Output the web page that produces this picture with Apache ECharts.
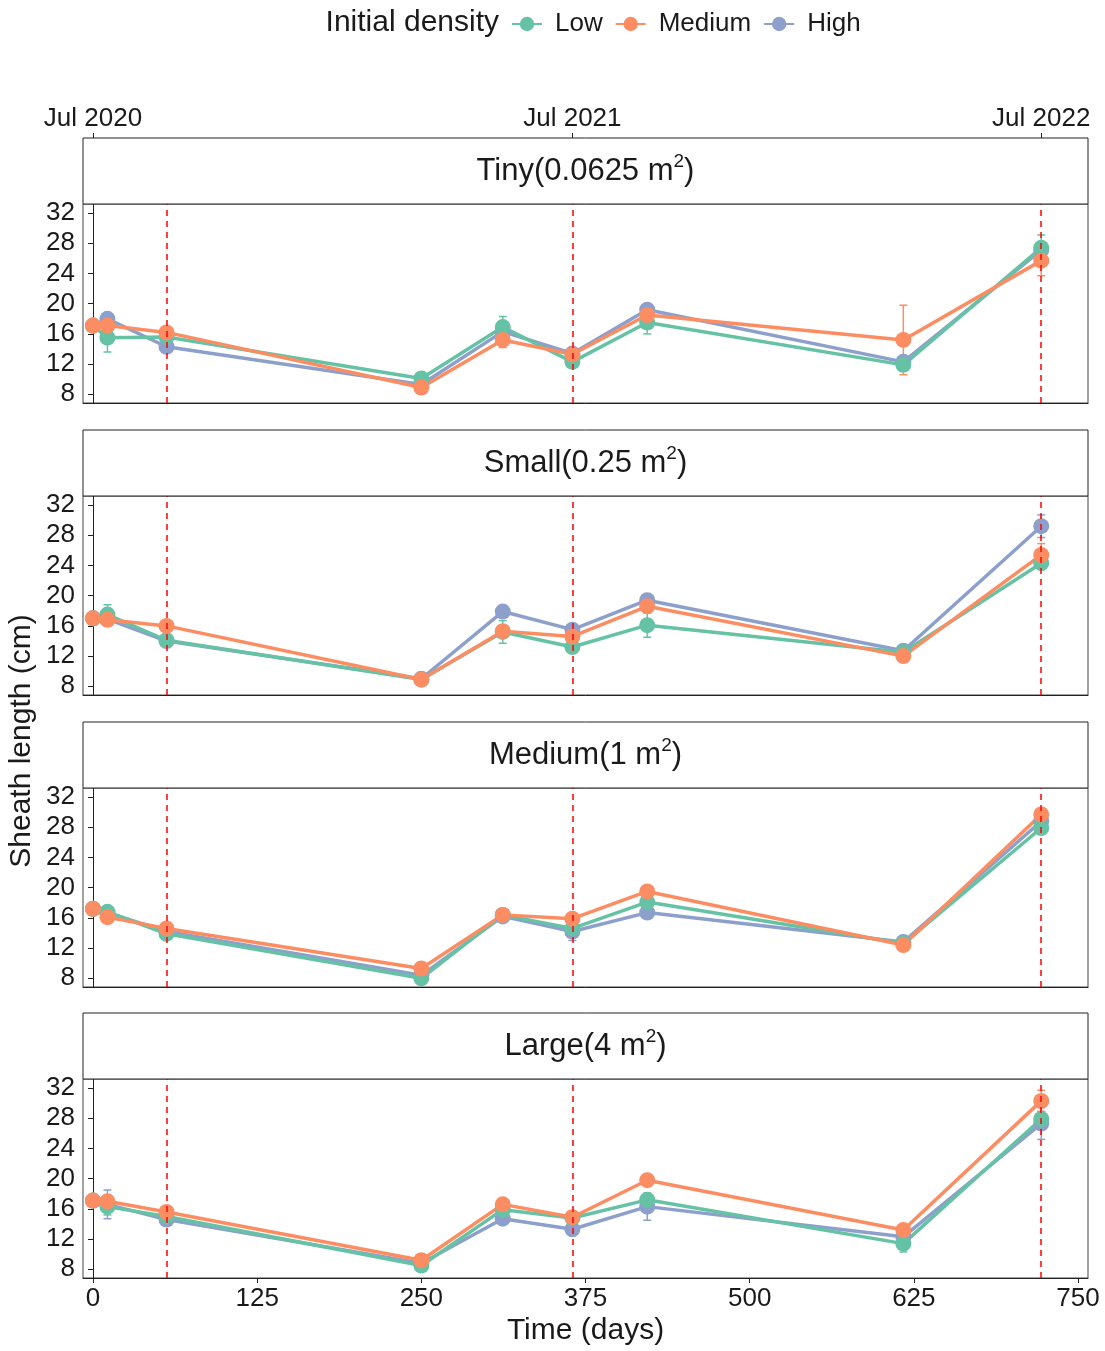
<!DOCTYPE html>
<html>
<head>
<meta charset="utf-8">
<script src="https://cdn.jsdelivr.net/npm/echarts@6/dist/echarts.min.js"></script>
<style>
html, body { margin: 0; background: #fff; }
#chart { width: 1105px; height: 1351px; }
</style>
</head>
<body>
<div id="chart"></div>
<script>
// sampling days since first survey
const days = [0, 11, 56, 250, 312, 365, 422, 617, 722]
const groups = ['Low', 'Medium', 'High']
const panelNames = ['Tiny', 'Small', 'Medium', 'Large']
const panelAreas = ['0.0625', '0.25', '1', '4']
const xTicks = [0, 125, 250, 375, 500, 625, 750]
const yTicks = [8, 12, 16, 20, 24, 28, 32]
const dateTickDays = [0, 365, 722]
const dateTickLabels = ['Jul 2020', 'Jul 2021', 'Jul 2022']
const dashedDays = [56, 365, 722]

// mean sheath length (cm)
const tinyLow = [17.1, 15.5, 15.6, 10.1, 16.9, 12.3, 17.5, 11.9, 27.4]
const tinyMedium = [17.1, 17.1, 16.2, 8.9, 15.2, 13.3, 18.5, 15.2, 25.7]
const tinyHigh = [17.1, 18.0, 14.3, 9.3, 16.3, 13.4, 19.2, 12.3, 27.1]
const smallLow = [17.0, 17.5, 14.1, 8.9, 15.2, 13.2, 16.1, 12.5, 24.3]
const smallMedium = [17.0, 16.8, 16.0, 8.9, 15.3, 14.6, 18.6, 12.0, 25.4]
const smallHigh = [17.0, 16.9, 14.0, 9.0, 17.9, 15.5, 19.4, 12.7, 29.2]
const mediumLow = [17.2, 16.8, 13.9, 8.0, 16.4, 14.6, 18.1, 12.6, 27.9]
const mediumMedium = [17.2, 16.1, 14.6, 9.3, 16.4, 15.9, 19.5, 12.4, 29.7]
const mediumHigh = [17.2, 16.7, 14.2, 8.4, 16.2, 14.2, 16.7, 12.8, 28.8]
const largeLow = [17.1, 16.3, 15.0, 8.5, 15.9, 14.8, 17.2, 11.4, 27.9]
const largeMedium = [17.1, 17.0, 15.6, 9.2, 16.6, 14.9, 19.8, 13.2, 30.3]
const largeHigh = [17.1, 16.6, 14.6, 8.8, 14.7, 13.3, 16.3, 12.3, 27.3]

// standard errors
const tinyLowSe = [0.2, 1.9, 0.4, 0.3, 1.4, 0.6, 1.5, 0.8, 1.7]
const tinyMediumSe = [0.2, 0.5, 0.4, 0.3, 1.0, 0.6, 0.6, 4.6, 2.0]
const tinyHighSe = [0.2, 0.6, 0.4, 0.3, 0.6, 0.5, 0.6, 0.8, 1.0]
const smallLowSe = [0.2, 1.3, 0.4, 0.3, 1.5, 0.7, 1.6, 0.5, 0.8]
const smallMediumSe = [0.2, 0.6, 0.4, 0.3, 0.6, 0.5, 0.6, 0.5, 1.5]
const smallHighSe = [0.2, 0.6, 0.4, 0.3, 0.6, 0.5, 0.8, 0.5, 1.5]
const mediumLowSe = [0.2, 0.6, 0.4, 0.3, 0.5, 0.6, 0.6, 0.5, 0.8]
const mediumMediumSe = [0.2, 0.8, 0.4, 0.3, 0.5, 0.5, 0.6, 0.5, 0.8]
const mediumHighSe = [0.2, 0.6, 0.4, 0.3, 0.5, 1.2, 0.6, 0.5, 0.8]
const largeLowSe = [0.2, 1.1, 0.4, 0.3, 0.6, 0.5, 0.8, 1.1, 1.0]
const largeMediumSe = [0.2, 0.8, 0.4, 0.3, 0.5, 0.5, 0.6, 0.5, 1.4]
const largeHighSe = [0.2, 1.9, 0.4, 0.3, 0.6, 0.6, 1.8, 0.5, 2.1]

const means = [
  [tinyLow, tinyMedium, tinyHigh],
  [smallLow, smallMedium, smallHigh],
  [mediumLow, mediumMedium, mediumHigh],
  [largeLow, largeMedium, largeHigh]
]
const ses = [
  [tinyLowSe, tinyMediumSe, tinyHighSe],
  [smallLowSe, smallMediumSe, smallHighSe],
  [mediumLowSe, mediumMediumSe, mediumHighSe],
  [largeLowSe, largeMediumSe, largeHighSe]
]

const colors = ['#66c2a5', '#fc8d62', '#8da0cb']
const drawOrder = [2, 0, 1] // High below Low below Medium
const font = 'Liberation Sans, Arial, sans-serif'
const textColor = '#1a1a1a'

const left = 83
const right = 17
const plotWidth = 1105 - left - right
const panelTops = [204, 496, 788, 1079]
const panelHeight = 199
const stripHeight = 66
const xMin = -7.6
const xMax = 757.6
const yMin = 6.85
const yMax = 33.2

const chart = echarts.init(document.getElementById('chart'), null, { renderer: 'canvas' })

const grid = panelTops.map(top => ({
  left, top, width: plotWidth, height: panelHeight,
  show: true, borderColor: '#444', borderWidth: 1, backgroundColor: '#fff'
}))

const xAxis = panelTops.map((top, i) => ({
  type: 'value', gridIndex: i, min: xMin, max: xMax,
  splitLine: { show: false },
  axisLine: { show: true, lineStyle: { color: '#222', width: 1 } },
  axisTick: { show: i === 3, length: 5, customValues: xTicks, lineStyle: { color: '#222' } },
  axisLabel: {
    show: i === 3, customValues: xTicks, margin: 8,
    fontSize: 26, fontFamily: font, color: textColor
  }
}))
// date axis above the first strip
xAxis.push({
  type: 'value', gridIndex: 0, position: 'top', offset: stripHeight,
  min: xMin, max: xMax,
  splitLine: { show: false },
  axisLine: { show: false },
  axisTick: { show: true, length: 5, customValues: dateTickDays, lineStyle: { color: '#222' } },
  axisLabel: {
    customValues: dateTickDays, margin: 6,
    fontSize: 26, fontFamily: font, color: textColor,
    formatter: v => dateTickLabels[dateTickDays.indexOf(v)]
  }
})

const yAxis = panelTops.map((top, i) => ({
  type: 'value', gridIndex: i, min: yMin, max: yMax,
  splitLine: { show: false },
  axisLine: { show: true, lineStyle: { color: '#222', width: 1 } },
  axisTick: { show: true, length: 5, customValues: yTicks, lineStyle: { color: '#222' } },
  axisLabel: {
    customValues: yTicks, margin: 8,
    fontSize: 26, fontFamily: font, color: textColor
  }
}))

function renderErrorBar (params, api) {
  const x = api.value(0)
  const lo = api.coord([x, api.value(1)])
  const hi = api.coord([x, api.value(2)])
  const cap = 4
  const style = { stroke: api.visual('color'), lineWidth: 1.5 }
  return {
    type: 'group',
    children: [
      { type: 'line', shape: { x1: lo[0], y1: lo[1], x2: hi[0], y2: hi[1] }, style },
      { type: 'line', shape: { x1: lo[0] - cap, y1: lo[1], x2: lo[0] + cap, y2: lo[1] }, style },
      { type: 'line', shape: { x1: hi[0] - cap, y1: hi[1], x2: hi[0] + cap, y2: hi[1] }, style }
    ]
  }
}

const series = []
panelTops.forEach((top, p) => {
  drawOrder.forEach(g => {
    series.push({
      name: groups[g] + ' se',
      type: 'custom',
      xAxisIndex: p,
      yAxisIndex: p,
      z: 1,
      itemStyle: { color: colors[g] },
      renderItem: renderErrorBar,
      encode: { x: 0, y: [1, 2] },
      data: days.map((d, k) => [d, means[p][g][k] - ses[p][g][k], means[p][g][k] + ses[p][g][k]])
    })
  })
  drawOrder.forEach((g, n) => {
    const s = {
      name: groups[g],
      type: 'line',
      xAxisIndex: p,
      yAxisIndex: p,
      z: 2,
      symbol: 'circle',
      symbolSize: 16,
      showSymbol: true,
      color: colors[g],
      lineStyle: { width: 3.5, color: colors[g] },
      itemStyle: { color: colors[g] },
      data: days.map((d, k) => [d, means[p][g][k]])
    }
    if (n === 0) {
      s.markLine = {
        silent: true,
        symbol: 'none',
        label: { show: false },
        lineStyle: { color: '#ff0000', type: [6, 5], width: 1.5 },
        data: dashedDays.map(d => ({ xAxis: d }))
      }
    }
    series.push(s)
  })
})

const graphic = []
panelTops.forEach((top, p) => {
  graphic.push({
    type: 'rect',
    shape: { x: left, y: top - stripHeight, width: plotWidth, height: stripHeight },
    style: { fill: '#fff', stroke: '#222', lineWidth: 1 },
    z: 10
  })
  graphic.push({
    type: 'text',
    x: left + plotWidth / 2,
    y: top - stripHeight / 2,
    z: 11,
    style: {
      text: `{n|${panelNames[p]}(${panelAreas[p]} m}{s|2}{n|)}`,
      align: 'center',
      verticalAlign: 'middle',
      fill: textColor,
      rich: {
        n: { fontSize: 31, fontFamily: font, lineHeight: 38, fill: textColor },
        s: { fontSize: 19, fontFamily: font, verticalAlign: 'top', lineHeight: 38, fill: textColor }
      }
    }
  })
})
graphic.push({
  type: 'text',
  x: 22, y: 741, rotation: Math.PI / 2,
  style: {
    text: 'Sheath length (cm)', align: 'center', verticalAlign: 'middle',
    fontSize: 30, fontFamily: font, fill: textColor
  }
})
graphic.push({
  type: 'text',
  x: left + plotWidth / 2, y: 1331,
  style: {
    text: 'Time (days)', align: 'center', verticalAlign: 'middle',
    fontSize: 30, fontFamily: font, fill: textColor
  }
})
graphic.push({
  type: 'text',
  x: 499, y: 23,
  style: {
    text: 'Initial density', align: 'right', verticalAlign: 'middle',
    fontSize: 30, fontFamily: font, fill: textColor
  }
})

chart.setOption({
  animation: false,
  backgroundColor: '#fff',
  legend: {
    data: groups,
    left: 506,
    top: 6,
    itemWidth: 30,
    itemHeight: 18,
    itemGap: 12,
    textStyle: { fontSize: 26, fontFamily: font, color: textColor, padding: [0, 0, 0, 8] }
  },
  grid,
  xAxis,
  yAxis,
  series,
  graphic
})
</script>
</body>
</html>
